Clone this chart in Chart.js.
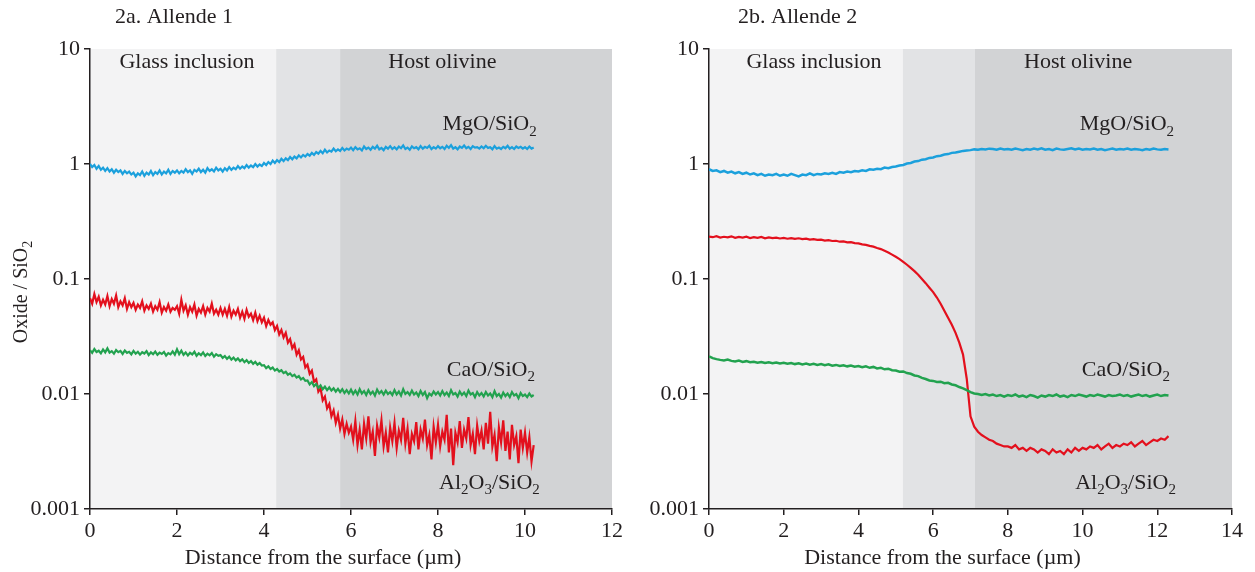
<!DOCTYPE html>
<html>
<head>
<meta charset="utf-8">
<script src="https://cdn.jsdelivr.net/npm/chart.js@4.4.1/dist/chart.umd.min.js"></script>
<style>
  html, body { margin: 0; padding: 0; background: #fff; }
  #wrap { position: relative; width: 1255px; height: 572px; }
  .box { position: absolute; top: 0; height: 572px; }
</style>
</head>
<body>
<div id="wrap">
  <div class="box" style="left:0;width:628px"><canvas id="chartA" width="628" height="572"></canvas></div>
  <div class="box" style="left:628px;width:627px"><canvas id="chartB" width="627" height="572"></canvas></div>
</div>
<script>
// ---- data ----
const yTicks = [0.001, 0.01, 0.1, 1, 10];

// 2a. Allende 1  (one row = 1 um)
const zonesA = [0, 4.28, 5.75, 12];
const depthA = [
  0,0.05,0.1,0.15,0.2,0.25,0.3,0.35,0.4,0.45,0.5,0.55,0.6,0.65,0.7,0.75,0.8,0.85,0.9,0.95,
  1,1.05,1.1,1.15,1.2,1.25,1.3,1.35,1.4,1.45,1.5,1.55,1.6,1.65,1.7,1.75,1.8,1.85,1.9,1.95,
  2,2.05,2.1,2.15,2.2,2.25,2.3,2.35,2.4,2.45,2.5,2.55,2.6,2.65,2.7,2.75,2.8,2.85,2.9,2.95,
  3,3.05,3.1,3.15,3.2,3.25,3.3,3.35,3.4,3.45,3.5,3.55,3.6,3.65,3.7,3.75,3.8,3.85,3.9,3.95,
  4,4.05,4.1,4.15,4.2,4.25,4.3,4.35,4.4,4.45,4.5,4.55,4.6,4.65,4.7,4.75,4.8,4.85,4.9,4.95,
  5,5.05,5.1,5.15,5.2,5.25,5.3,5.35,5.4,5.45,5.5,5.55,5.6,5.65,5.7,5.75,5.8,5.85,5.9,5.95,
  6,6.05,6.1,6.15,6.2,6.25,6.3,6.35,6.4,6.45,6.5,6.55,6.6,6.65,6.7,6.75,6.8,6.85,6.9,6.95,
  7,7.05,7.1,7.15,7.2,7.25,7.3,7.35,7.4,7.45,7.5,7.55,7.6,7.65,7.7,7.75,7.8,7.85,7.9,7.95,
  8,8.05,8.1,8.15,8.2,8.25,8.3,8.35,8.4,8.45,8.5,8.55,8.6,8.65,8.7,8.75,8.8,8.85,8.9,8.95,
  9,9.05,9.1,9.15,9.2,9.25,9.3,9.35,9.4,9.45,9.5,9.55,9.6,9.65,9.7,9.75,9.8,9.85,9.9,9.95,
  10,10.05,10.1,10.15,10.2
];
const mgoA = [
  1.00,0.94,0.98,0.91,0.96,0.89,0.93,0.87,0.92,0.86,0.90,0.84,0.89,0.85,0.88,0.82,0.87,0.83,0.86,0.81,
  0.84,0.78,0.83,0.80,0.86,0.79,0.84,0.81,0.87,0.80,0.85,0.82,0.88,0.81,0.86,0.83,0.89,0.82,0.87,0.84,
  0.88,0.83,0.87,0.84,0.90,0.85,0.88,0.82,0.89,0.86,0.91,0.85,0.89,0.84,0.92,0.87,0.90,0.86,0.93,0.88,
  0.91,0.86,0.92,0.88,0.94,0.89,0.93,0.90,0.96,0.91,0.95,0.92,0.98,0.93,0.97,0.94,1.00,0.95,0.99,0.96,
  1.02,0.98,1.04,1.00,1.07,1.02,1.08,1.04,1.11,1.06,1.12,1.08,1.15,1.10,1.16,1.12,1.19,1.14,1.20,1.16,
  1.22,1.18,1.25,1.20,1.27,1.23,1.30,1.24,1.33,1.26,1.31,1.28,1.36,1.29,1.34,1.30,1.38,1.31,1.36,1.33,
  1.39,1.32,1.40,1.34,1.37,1.31,1.42,1.35,1.39,1.33,1.41,1.36,1.44,1.34,1.38,1.32,1.41,1.36,1.43,1.35,
  1.40,1.34,1.42,1.37,1.45,1.35,1.39,1.33,1.42,1.37,1.40,1.34,1.43,1.36,1.41,1.38,1.44,1.35,1.40,1.36,
  1.43,1.37,1.41,1.35,1.44,1.38,1.46,1.36,1.40,1.34,1.42,1.38,1.45,1.37,1.41,1.35,1.43,1.39,1.40,1.36,
  1.42,1.37,1.44,1.38,1.40,1.34,1.43,1.36,1.39,1.35,1.41,1.37,1.44,1.36,1.40,1.35,1.42,1.38,1.41,1.36,
  1.40,1.35,1.42,1.36,1.39
];
const caoA = [
  0.0240,0.0228,0.0246,0.0232,0.0238,0.0226,0.0244,0.0230,0.0249,0.0229,0.0236,0.0224,0.0241,0.0231,0.0237,0.0223,0.0239,0.0228,0.0233,0.0221,
  0.0237,0.0224,0.0233,0.0220,0.0231,0.0225,0.0236,0.0218,0.0230,0.0222,0.0234,0.0219,0.0229,0.0223,0.0232,0.0216,0.0227,0.0221,0.0235,0.0220,
  0.0245,0.0222,0.0238,0.0219,0.0230,0.0216,0.0228,0.0221,0.0233,0.0215,0.0226,0.0218,0.0230,0.0214,0.0224,0.0217,0.0227,0.0211,0.0222,0.0215,
  0.0218,0.0206,0.0214,0.0202,0.0211,0.0199,0.0207,0.0196,0.0204,0.0193,0.0200,0.0189,0.0197,0.0186,0.0193,0.0183,0.0190,0.0180,0.0186,0.0177,
  0.0178,0.0168,0.0174,0.0165,0.0170,0.0160,0.0165,0.0157,0.0161,0.0152,0.0156,0.0147,0.0151,0.0143,0.0147,0.0139,0.0143,0.0134,0.0138,0.0130,
  0.0131,0.0121,0.0127,0.0117,0.0122,0.0113,0.0119,0.0110,0.0116,0.0108,0.0114,0.0107,0.0112,0.0105,0.0111,0.0104,0.0110,0.0102,0.0108,0.0101,
  0.0109,0.0100,0.0107,0.0099,0.0110,0.0101,0.0106,0.0098,0.0108,0.0100,0.0105,0.0097,0.0109,0.0101,0.0106,0.0099,0.0107,0.0100,0.0104,0.0098,
  0.0108,0.0099,0.0105,0.0097,0.0110,0.0100,0.0104,0.0098,0.0107,0.0099,0.0103,0.0096,0.0106,0.0098,0.0104,0.0092,0.0101,0.0097,0.0105,0.0099,
  0.0104,0.0097,0.0106,0.0098,0.0103,0.0096,0.0108,0.0099,0.0102,0.0095,0.0105,0.0098,0.0103,0.0096,0.0107,0.0099,0.0102,0.0094,0.0104,0.0097,
  0.0102,0.0095,0.0104,0.0097,0.0101,0.0094,0.0106,0.0096,0.0100,0.0093,0.0103,0.0096,0.0101,0.0094,0.0104,0.0097,0.0100,0.0092,0.0102,0.0096,
  0.0099,0.0094,0.0101,0.0095,0.0098
];
const al2o3A = [
  0.068,0.061,0.074,0.063,0.070,0.059,0.066,0.060,0.071,0.058,0.067,0.061,0.072,0.057,0.064,0.059,0.068,0.055,0.063,0.057,
  0.062,0.054,0.060,0.056,0.064,0.053,0.059,0.055,0.061,0.052,0.058,0.054,0.063,0.051,0.057,0.053,0.060,0.052,0.056,0.054,
  0.058,0.050,0.066,0.053,0.059,0.049,0.057,0.052,0.060,0.048,0.055,0.051,0.058,0.049,0.056,0.052,0.061,0.050,0.054,0.049,
  0.056,0.049,0.055,0.048,0.057,0.047,0.053,0.049,0.055,0.046,0.052,0.045,0.054,0.047,0.050,0.044,0.051,0.043,0.048,0.042,
  0.046,0.039,0.044,0.040,0.042,0.036,0.039,0.033,0.036,0.031,0.034,0.028,0.030,0.025,0.027,0.022,0.024,0.020,0.021,0.017,
  0.018,0.015,0.016,0.0128,0.0134,0.0105,0.0112,0.0088,0.0095,0.0075,0.0082,0.0064,0.0072,0.0056,0.0066,0.0050,0.0060,0.0045,0.0055,0.0046,
  0.0052,0.0040,0.0058,0.0036,0.0049,0.0033,0.0055,0.0041,0.0064,0.0038,0.0047,0.0029,0.0053,0.0042,0.0059,0.0035,0.0046,0.0031,0.0051,0.0039,
  0.0056,0.0034,0.0048,0.0040,0.0062,0.0037,0.0050,0.0030,0.0045,0.0039,0.0057,0.0033,0.0049,0.0041,0.0060,0.0036,0.0044,0.0027,0.0052,0.0038,
  0.0054,0.0035,0.0047,0.0040,0.0066,0.0031,0.0050,0.0024,0.0046,0.0038,0.0058,0.0034,0.0049,0.0041,0.0063,0.0036,0.0045,0.0030,0.0053,0.0039,
  0.0048,0.0033,0.0056,0.0037,0.0070,0.0035,0.0044,0.0026,0.0051,0.0038,0.0059,0.0032,0.0047,0.0027,0.0054,0.0036,0.0043,0.0025,0.0049,0.0034,
  0.0046,0.0031,0.0042,0.0026,0.0036
];

// 2b. Allende 2  (one row = 1 um)
const zonesB = [0, 5.19, 7.12, 14];
const depthB = [
  0,0.1,0.2,0.3,0.4,0.5,0.6,0.7,0.8,0.9,
  1,1.1,1.2,1.3,1.4,1.5,1.6,1.7,1.8,1.9,
  2,2.1,2.2,2.3,2.4,2.5,2.6,2.7,2.8,2.9,
  3,3.1,3.2,3.3,3.4,3.5,3.6,3.7,3.8,3.9,
  4,4.1,4.2,4.3,4.4,4.5,4.6,4.7,4.8,4.9,
  5,5.1,5.2,5.3,5.4,5.5,5.6,5.7,5.8,5.9,
  6,6.1,6.2,6.3,6.4,6.5,6.6,6.7,6.8,6.9,
  7,7.1,7.2,7.3,7.4,7.5,7.6,7.7,7.8,7.9,
  8,8.1,8.2,8.3,8.4,8.5,8.6,8.7,8.8,8.9,
  9,9.1,9.2,9.3,9.4,9.5,9.6,9.7,9.8,9.9,
  10,10.1,10.2,10.3,10.4,10.5,10.6,10.7,10.8,10.9,
  11,11.1,11.2,11.3,11.4,11.5,11.6,11.7,11.8,11.9,
  12,12.1,12.2,12.3
];
const mgoB = [
  0.90,0.87,0.88,0.85,0.87,0.84,0.86,0.83,0.85,0.82,
  0.84,0.81,0.83,0.80,0.82,0.79,0.81,0.80,0.82,0.79,
  0.81,0.79,0.82,0.80,0.78,0.81,0.80,0.83,0.80,0.82,
  0.81,0.83,0.82,0.84,0.82,0.85,0.84,0.86,0.85,0.87,
  0.86,0.88,0.87,0.90,0.89,0.91,0.90,0.93,0.92,0.94,
  0.95,0.97,0.98,1.01,1.02,1.05,1.06,1.09,1.10,1.13,
  1.14,1.17,1.18,1.21,1.22,1.25,1.26,1.28,1.30,1.31,
  1.32,1.34,1.33,1.35,1.34,1.36,1.35,1.33,1.36,1.34,
  1.35,1.33,1.36,1.34,1.32,1.35,1.33,1.36,1.34,1.37,
  1.33,1.35,1.32,1.36,1.34,1.33,1.35,1.37,1.34,1.36,
  1.33,1.35,1.34,1.36,1.33,1.35,1.32,1.34,1.36,1.33,
  1.35,1.34,1.36,1.33,1.35,1.34,1.32,1.35,1.33,1.36,
  1.34,1.33,1.35,1.34
];
const caoB = [
  0.0212,0.0205,0.0201,0.0198,0.0196,0.0199,0.0194,0.0192,0.0195,0.0190,
  0.0193,0.0189,0.0191,0.0187,0.0190,0.0186,0.0189,0.0185,0.0188,0.0184,
  0.0187,0.0183,0.0186,0.0182,0.0185,0.0181,0.0184,0.0180,0.0183,0.0179,
  0.0182,0.0178,0.0181,0.0176,0.0179,0.0175,0.0178,0.0174,0.0177,0.0173,
  0.0175,0.0171,0.0174,0.0169,0.0172,0.0167,0.0169,0.0164,0.0166,0.0161,
  0.0160,0.0156,0.0157,0.0152,0.0150,0.0145,0.0143,0.0138,0.0135,0.0131,
  0.0130,0.0127,0.0128,0.0124,0.0125,0.0121,0.0119,0.0115,0.0112,0.0108,
  0.0104,0.0101,0.0100,0.0098,0.0100,0.0097,0.0099,0.0096,0.0098,0.0095,
  0.0098,0.0096,0.0099,0.0095,0.0097,0.0094,0.0098,0.0096,0.0093,0.0097,
  0.0095,0.0098,0.0096,0.0099,0.0095,0.0097,0.0094,0.0098,0.0096,0.0099,
  0.0097,0.0095,0.0098,0.0096,0.0099,0.0097,0.0095,0.0098,0.0096,0.0097,
  0.0099,0.0096,0.0098,0.0095,0.0097,0.0099,0.0096,0.0098,0.0095,0.0097,
  0.0099,0.0096,0.0098,0.0097
];
const al2o3B = [
  0.234,0.231,0.236,0.229,0.233,0.230,0.235,0.228,0.232,0.229,
  0.233,0.227,0.231,0.228,0.232,0.226,0.230,0.227,0.229,0.225,
  0.228,0.224,0.227,0.223,0.226,0.222,0.224,0.220,0.222,0.219,
  0.220,0.216,0.218,0.214,0.215,0.211,0.212,0.208,0.209,0.205,
  0.204,0.200,0.198,0.194,0.191,0.186,0.182,0.176,0.170,0.163,
  0.156,0.149,0.141,0.133,0.125,0.117,0.109,0.100,0.092,0.084,
  0.077,0.069,0.061,0.053,0.046,0.040,0.034,0.028,0.022,0.0135,
  0.0064,0.0052,0.0047,0.0044,0.0042,0.0040,0.0039,0.0037,0.0036,0.0035,
  0.0035,0.0034,0.0036,0.0033,0.0034,0.0032,0.0034,0.0033,0.0031,0.0033,
  0.0032,0.0030,0.0033,0.0031,0.0032,0.0030,0.0033,0.0031,0.0034,0.0032,
  0.0034,0.0033,0.0035,0.0034,0.0036,0.0033,0.0035,0.0037,0.0034,0.0036,
  0.0035,0.0037,0.0036,0.0038,0.0035,0.0037,0.0039,0.0036,0.0038,0.0040,
  0.0039,0.0041,0.0040,0.0043
];

// ---- styling ----
const FONT = "'Liberation Serif', 'Times New Roman', serif";
const INK = '#231f20';
const zoneColors = ['#f3f3f4', '#e2e3e5', '#d2d3d5'];
const colMgO = '#1ba0dc';
const colCaO = '#22a24f';
const colAl = '#e3101d';

// text made of pieces, pieces flagged 1 are subscripts
function drawRich(ctx, parts, x, y, align, size) {
  size = size || 22;
  const sub = Math.round(size * 0.68);
  let w = 0;
  parts.forEach(p => {
    ctx.font = (p[1] ? sub : size) + 'px ' + FONT;
    w += ctx.measureText(p[0]).width;
  });
  let cx = align === 'right' ? x - w : (align === 'center' ? x - w / 2 : x);
  ctx.textBaseline = 'middle';
  ctx.textAlign = 'left';
  parts.forEach(p => {
    ctx.font = (p[1] ? sub : size) + 'px ' + FONT;
    ctx.fillText(p[0], cx, p[1] ? y + size * 0.33 : y);
    cx += ctx.measureText(p[0]).width;
  });
}

const decor = {
  id: 'decor',
  beforeDraw(chart, args, o) {
    const { ctx, chartArea: a, scales: { x } } = chart;
    ctx.save();
    for (let i = 0; i < zoneColors.length; i++) {
      const x0 = x.getPixelForValue(o.zones[i]);
      const x1 = x.getPixelForValue(o.zones[i + 1]);
      ctx.fillStyle = zoneColors[i];
      ctx.fillRect(x0, a.top, x1 - x0, a.bottom - a.top);
    }
    ctx.restore();
  },
  afterDraw(chart, args, o) {
    const { ctx, chartArea: a, scales: { x, y } } = chart;
    ctx.save();
    ctx.fillStyle = INK;
    drawRich(ctx, [[o.title]], a.left + o.titleDx, 17, 'left');
    drawRich(ctx, [['Glass inclusion']], x.getPixelForValue(o.glassAt), a.top + 13, 'center');
    drawRich(ctx, [['Host olivine']], x.getPixelForValue(o.hostAt), a.top + 13, 'center');
    o.names.forEach(n => {
      drawRich(ctx, n.parts, x.getPixelForValue(n.x), y.getPixelForValue(n.y), 'right');
    });
    // x title sits a bit left of the plot centre in the original
    drawRich(ctx, [['Distance from the surface (\u00b5m)']], (a.left + a.right) / 2 - 28, 558, 'center');
    if (o.yTitle) {
      ctx.translate(22, (a.top + a.bottom) / 2 + 13);
      ctx.rotate(-Math.PI / 2);
      drawRich(ctx, [['Oxide / SiO'], ['2', 1]], 0, 0, 'center', 20);
    }
    ctx.restore();
  }
};

function series(xs, ys, label, color, width) {
  return {
    label: label,
    data: xs.map((v, i) => ({ x: v, y: ys[i] })),
    borderColor: color,
    borderWidth: width,
    pointRadius: 0,
    tension: 0,
    fill: false
  };
}

function makeChart(id, sets, xMax, yWidth, padRight, decorOpts) {
  const axisLine = { display: true, color: INK, width: 1.5 };
  const font = { family: FONT, size: 22 };
  const grid = { drawOnChartArea: false, drawTicks: true, tickLength: 6, color: INK, lineWidth: 1.5 };
  new Chart(document.getElementById(id), {
    type: 'line',
    data: { datasets: sets },
    options: {
      responsive: false,
      animation: false,
      layout: { padding: { top: 49, right: padRight, left: 0, bottom: 0 } },
      plugins: { legend: { display: false }, tooltip: { enabled: false }, decor: decorOpts },
      scales: {
        x: {
          type: 'linear', min: 0, max: xMax,
          ticks: { stepSize: 2, padding: 3, color: INK, font: font },
          border: axisLine,
          grid: grid,
          afterFit: s => { s.height = 63; }
        },
        y: {
          type: 'logarithmic', min: 0.001, max: 10,
          afterBuildTicks: s => { s.ticks = yTicks.map(v => ({ value: v })); },
          ticks: { padding: 4, color: INK, font: font, callback: v => String(v) },
          border: axisLine,
          grid: grid,
          afterFit: s => { s.width = yWidth; }
        }
      }
    },
    plugins: [decor]
  });
}

const namesA = [
  { parts: [['MgO/SiO'], ['2', 1]], x: 10.27, y: 2.2 },
  { parts: [['CaO/SiO'], ['2', 1]], x: 10.23, y: 0.0162 },
  { parts: [['Al'], ['2', 1], ['O'], ['3', 1], ['/SiO'], ['2', 1]], x: 10.34, y: 0.00168 }
];
const namesB = [
  { parts: [['MgO/SiO'], ['2', 1]], x: 12.45, y: 2.2 },
  { parts: [['CaO/SiO'], ['2', 1]], x: 12.34, y: 0.0162 },
  { parts: [['Al'], ['2', 1], ['O'], ['3', 1], ['/SiO'], ['2', 1]], x: 12.5, y: 0.00168 }
];

makeChart('chartA', [
  series(depthA, mgoA, 'MgO/SiO2', colMgO, 2.2),
  series(depthA, caoA, 'CaO/SiO2', colCaO, 2.2),
  series(depthA, al2o3A, 'Al2O3/SiO2', colAl, 2.2)
], 12, 90, 16, { zones: zonesA, title: '2a. Allende 1', titleDx: 25, glassAt: 2.23, hostAt: 8.1, names: namesA, yTitle: true });

makeChart('chartB', [
  series(depthB, mgoB, 'MgO/SiO2', colMgO, 2.5),
  series(depthB, caoB, 'CaO/SiO2', colCaO, 2.5),
  series(depthB, al2o3B, 'Al2O3/SiO2', colAl, 2.2)
], 14, 81, 23, { zones: zonesB, title: '2b. Allende 2', titleDx: 29, glassAt: 2.81, hostAt: 9.88, names: namesB, yTitle: false });
</script>
</body>
</html>
